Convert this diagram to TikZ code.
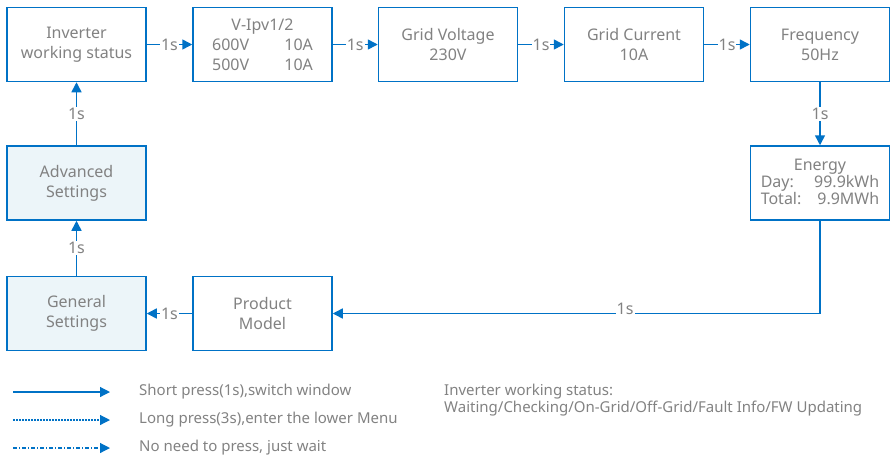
\documentclass[tikz,border=0pt]{standalone}
\usepackage{fontspec}
\setmainfont{Noto Sans}
\usetikzlibrary{arrows.meta}
\definecolor{lineblue}{RGB}{0,114,198}
\definecolor{textgray}{RGB}{130,130,130}
\definecolor{paleblue}{RGB}{236,245,249}

\begin{document}
\begin{tikzpicture}[x=1pt,y=-1pt,
  box/.style={draw=lineblue,line width=1.5pt,minimum width=139pt,minimum height=74pt,inner sep=1pt,align=center,text=textgray,font=\fontsize{16}{20}\selectfont},
  link/.style={draw=lineblue,line width=1.5pt,-{Triangle[length=10pt,width=10pt]}},
  tag/.style={fill=white,inner sep=1pt,text=textgray,font=\fontsize{16}{18}\selectfont},
  shortpress/.style={solid},
  longpress/.style={dash pattern=on 2pt off 1pt},
  nopress/.style={dash pattern=on 4pt off 2pt on 1pt off 2pt},
  legtext/.style={anchor=west,inner sep=0pt,text=textgray,font=\fontsize{15}{16}\selectfont}]
  \useasboundingbox (0,0) rectangle (891,459);
  \foreach \nm/\x/\y/\col/\txt in {inv/76.5/44.5/white/{Inverter\\working status},vipv/262.5/44.5/white/{V-Ipv1/2\\600V\hspace{2.2em}10A\\500V\hspace{2.2em}10A},gridv/448/44.5/white/{Grid Voltage\\230V},gridc/634/44.5/white/{Grid Current\\10A},freq/820/44.5/white/{Frequency\\50Hz},energy/820/183/white/{\begin{tabular}{@{}l@{\hspace{0.8em}}r@{}}\multicolumn{2}{c}{Energy}\\[-3pt]Day:&99.9kWh\\[-3pt]Total:&9.9MWh\end{tabular}},adv/76.5/183/paleblue/{Advanced\\Settings},gen/76.5/313.5/paleblue/{General\\Settings},prod/262.5/313.5/white/{Product\\Model}}
    \node[box,fill=\col] (\nm) at (\x,\y) {\txt};
  \foreach \a/\b in {inv/vipv,vipv/gridv,gridv/gridc,gridc/freq,freq/energy,prod/gen,gen/adv,adv/inv}
    \draw[link] (\a) -- node[tag]{1s} (\b);
  \draw[link] (energy.south) |- node[tag,pos=0.7,yshift=5pt]{1s} (prod);
  \foreach \i/\y/\pat/\txt in {1/392/shortpress/{Short press(1s),switch window},2/420/longpress/{Long press(3s),enter the lower Menu},3/448/nopress/{No need to press, just wait}}{
    \coordinate (s\i) at (13,\y);
    \coordinate (e\i) at (110,\y);
    \draw[link,line width=1.2pt,\pat] (s\i) -- (e\i);
    \node[legtext] (leg\i) at (139,\y) {\txt};
  }
  \node[legtext,anchor=north west,align=left,font=\fontsize{15}{17}\selectfont] (status) at (444,384) {Inverter working status:\\Waiting/Checking/On-Grid/Off-Grid/Fault Info/FW Updating};
\end{tikzpicture}
\end{document}
